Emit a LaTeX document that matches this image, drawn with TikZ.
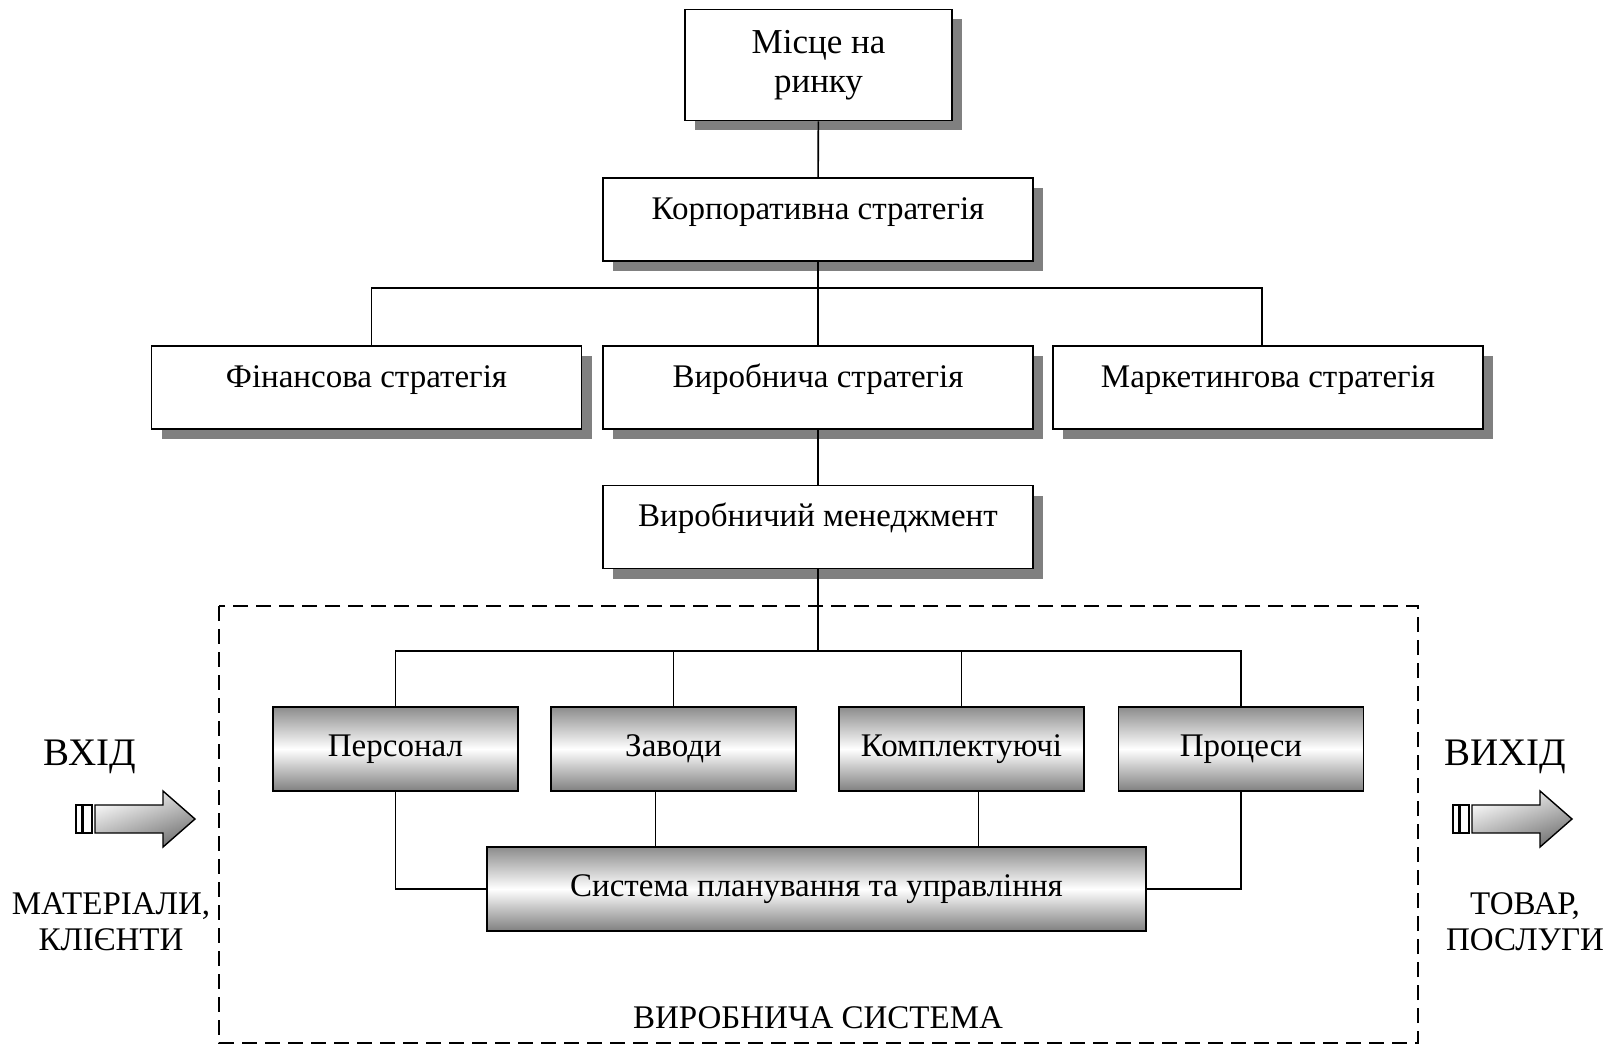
\documentclass[tikz,border=0pt]{standalone}
\usepackage{fontspec}
\setmainfont{Liberation Serif}
\usetikzlibrary{positioning,shadows}

\tikzset{
  boxtext/.style={font=\fontsize{33}{39}\selectfont},
  plainbox/.style={draw,line width=1.8pt,fill=white,inner sep=0pt,boxtext,
    drop shadow={shadow xshift=10pt,shadow yshift=-10pt,fill=black!50,opacity=1}},
  stratbox/.style={plainbox,minimum width=430pt,minimum height=83pt,
    text height=0.7em,text depth=0.8em},
  shadebox/.style={draw,line width=1.8pt,inner sep=0pt,boxtext,
    top color=black!45,bottom color=black!50,middle color=white,
    minimum width=245pt,minimum height=84pt},
  link/.style={line width=1.6pt},
  bigword/.style={font=\fontsize{39}{44}\selectfont},
  smallword/.style={font=\fontsize{33}{36}\selectfont,align=center},
  pics/flowarrow/.style={code={
    \draw[line width=1.4pt,fill=white] (0,-14) rectangle (6,14);
    \draw[line width=1.4pt,fill=white] (7,-14) rectangle (16,14);
    \draw[line width=1.4pt,top color=white,bottom color=black!55,shading angle=20]
      (19,-14) -- (87,-14) -- (87,-28) -- (119,0) -- (87,28) -- (87,14) -- (19,14) -- cycle;
  }},
}

\begin{document}
\begin{tikzpicture}[x=1pt,y=-1pt]
  \useasboundingbox (0,0) rectangle (1608,1046);

  % upper part
  \node[plainbox,minimum width=267pt,minimum height=111pt,align=center,
    font=\fontsize{35}{39}\selectfont] (market) at (818.5,65) {Місце на\\ринку};
  \node[stratbox] (corp) at (818,219.5) {Корпоративна стратегія};
  \node[stratbox] (fin) at (366.5,387.5) {Фінансова стратегія};
  \node[stratbox] (prod) at (818,387.5) {Виробнича стратегія};
  \node[stratbox] (mkt) at (1268,387.5) {Маркетингова стратегія};
  \node[stratbox] (mgmt) at (818,527) {Виробничий менеджмент};

  \coordinate (topbus) at (818,288);
  \draw[link] (market) -- (corp);
  \draw[link] (corp) -- (prod);
  \draw[link] ([xshift=5pt]fin.north) |- (topbus) -| ([xshift=-6pt]mkt.north);
  \draw[link] (prod) -- (mgmt);

  % production system
  \draw[line width=1.6pt,dash pattern=on 15pt off 8pt] (219,606) rectangle (1418,1043);
  \node[font=\fontsize{33}{36}\selectfont] (sysname) at (818,1018) {ВИРОБНИЧА СИСТЕМА};

  \node[shadebox] (staff) at (395.5,749) {Персонал};
  \node[shadebox] (plants) at (673.5,749) {Заводи};
  \node[shadebox] (parts) at (961.5,749) {Комплектуючі};
  \node[shadebox] (procs) at (1241,749) {Процеси};
  \node[shadebox,minimum width=659pt] (plan) at (816.5,889) {Система планування та управління};

  \coordinate (lowbus) at (818,651);
  \draw[link] (mgmt) -- (lowbus);
  \draw[link] (staff.north) |- (lowbus) -| (procs.north);
  \draw[link] (plants.north) -- (plants.north |- lowbus);
  \draw[link] (parts.north) -- (parts.north |- lowbus);

  \draw[link] (staff.south) |- (plan.west);
  \draw[link] (procs.south) |- (plan.east);
  \draw[link] ([xshift=-18pt]plants.south) -- ([xshift=-18pt]plants.south |- plan.north);
  \draw[link] ([xshift=17pt]parts.south) -- ([xshift=17pt]parts.south |- plan.north);

  % input and output
  \node[bigword] (inword) at (90,757) {ВХІД};
  \pic at (76,819) {flowarrow};
  \node[smallword] (inlist) at (111,922) {МАТЕРІАЛИ,\\КЛІЄНТИ};

  \node[bigword] (outword) at (1505,757) {ВИХІД};
  \pic at (1453,819) {flowarrow};
  \node[smallword] (outlist) at (1525,922) {ТОВАР,\\ПОСЛУГИ};
\end{tikzpicture}
\end{document}
